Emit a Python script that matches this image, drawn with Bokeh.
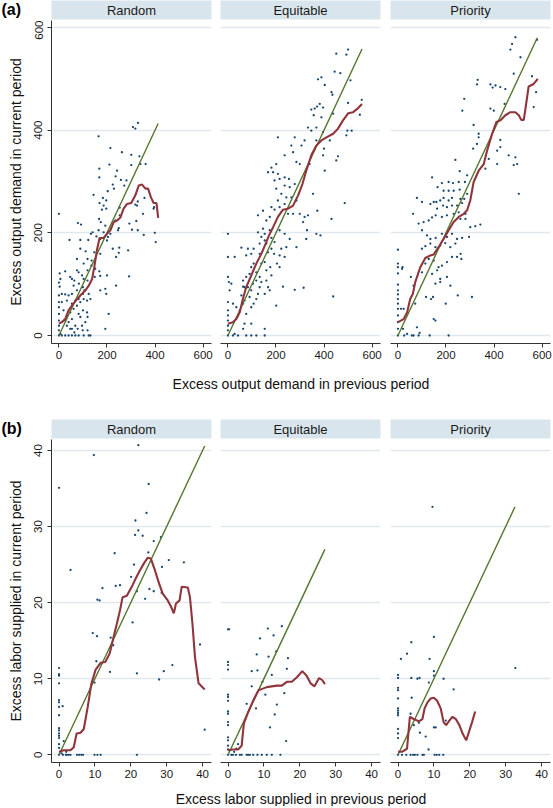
from bokeh.plotting import figure
from bokeh.models import Range1d, FixedTicker, Grid
from bokeh.layouts import column, row
from bokeh.embed import file_html
from bokeh.resources import INLINE
from bokeh.core.properties import value

FONT = "Liberation Sans"
NAVY = "#1a476f"
MAROON = "#90353b"
GREEN = "#55752f"
STRIP = "#d9e5ec"
GRIDC = "#dfe8ed"
AXIS = "#333333"

facets = ["Random", "Equitable", "Priority"]

# ---------------- panel (a): excess output demand ----------------
a_ticks = [0, 200, 400, 600]
a_ylabel = "Excess output demand in current period"
a_xlabel = "Excess output demand in previous period"
a_diag_max = [413, 558, 580]

a_random_pts = [(329,414),(308,406),(318,403),(165,388),(214,365),(262,357),(301,352),(335,349),(361,334),(339,334),
    (210,333),(301,332),(242,321),(236,310),(281,302),(168,325),(168,308),(258,303),(272,292),(224,294),
    (229,286),(144,274),(203,281),(183,268),(197,263),(169,258),(186,253),(197,247),(179,245),(356,268),
    (328,261),(318,255),(394,247),(253,249),(253,234),(167,227),(174,221),(193,214),(235,224),(249,209),
    (246,205),(322,223),(165,205),(186,201),(214,198),(204,192),(133,198),(140,201),(156,193),(172,188),
    (200,185),(224,169),(251,171),(249,161),(238,153),(293,218),(304,206),(288,166),(325,253),(350,237),
    (396,250),(399,200),(403,182),(328,205),(353,196),(122,186),(111,164),(89,169),(119,149),(136,146),
    (79,219),(92,216),(44,186),(89,186),(75,149),(103,140),(26,125),(47,114),(64,107),(82,123),
    (83,101),(100,94),(106,88),(124,81),(131,71),(117,68),(149,114),(172,116),(200,117),(168,125),
    (151,130),(193,91),(197,81),(207,42),(238,97),(292,115),(193,13),(172,88),(3,121),(6,110),
    (0,103),(3,95),(12,81),(26,80),(40,78),(54,81),(0,78),(0,65),(0,55),(0,42),
    (0,29),(0,19),(0,10),(0,0),(19,49),(33,39),(47,45),(61,52),(75,58),(89,65),
    (103,71),(26,29),(40,26),(54,32),(68,19),(78,13),(96,19),(110,26),(119,10),(68,68),
    (54,62),(82,71),(100,81),(110,88),(12,0),(26,0),(40,0),(54,0),(68,0),(82,0),
    (103,0),(124,0),(131,0),(33,68),(12,65),(75,88),(61,97),(103,110),(119,107),(119,127),
    (135,136),(75,127),(96,117),(54,110),(89,36),(100,49),(119,36),(47,13),(117,45),(99,10),
    (64,6),(33,19),(54,13),(6,3),(82,42),(172,159),(147,162),(0,237)]
a_random_fit_x = [0,12,26,40,54,72,89,110,124,138,147,158,169,186,200,214,228,242,256,269,283,301,318,332,346,360,371,383,394,406,413]
a_random_fit_y = [23,26,32,49,58,69,78,88,97,110,133,166,190,190,198,205,221,224,230,247,256,258,273,292,294,286,286,269,258,258,229]

a_equit_pts = [(493,547),(500,557),(444,514),(468,511),(451,549),(375,499),(389,503),(510,497),(403,488),(431,474),
    (435,469),(382,451),(347,440),(361,442),(371,446),(396,444),(357,429),(389,425),(438,432),(333,405),
    (347,399),(368,405),(396,396),(500,453),(549,430),(557,459),(497,399),(515,399),(493,390),(208,386),
    (278,386),(319,380),(264,370),(306,370),(368,380),(424,380),(400,364),(271,357),(236,351),(285,338),
    (299,334),(340,334),(396,351),(458,349),(451,341),(403,321),(201,334),(181,327),(188,318),(208,315),
    (167,318),(194,302),(215,305),(236,308),(254,305),(236,292),(257,289),(278,295),(201,286),(222,276),
    (243,269),(264,269),(285,263),(208,263),(181,250),(194,245),(215,250),(236,256),(250,237),(271,237),
    (299,237),(319,231),(333,234),(354,276),(372,243),(431,227),(486,258),(146,243),(160,224),(125,234),
    (174,231),(125,201),(153,198),(174,205),(215,205),(236,198),(257,188),(243,172),(285,172),(326,188),
    (368,198),(385,195),(329,205),(313,221),(153,185),(132,179),(107,169),(83,169),(56,171),(76,156),
    (97,159),(132,159),(167,162),(192,159),(215,156),(236,153),(204,140),(153,143),(176,133),(139,140),
    (107,140),(97,133),(118,123),(90,120),(76,114),(63,107),(104,101),(139,104),(160,107),(181,117),
    (229,95),(174,88),(132,94),(153,81),(125,81),(97,88),(83,94),(63,95),(56,78),(69,68),
    (90,75),(118,71),(107,62),(97,55),(0,153),(28,153),(0,114),(4,104),(14,101),(7,88),
    (0,65),(0,49),(0,39),(0,29),(0,19),(0,10),(0,0),(0,198),(21,62),(35,55),
    (49,49),(63,62),(76,42),(201,58),(278,89),(315,93),(438,76),(69,23),(97,23),(63,13),
    (76,0),(118,0),(153,13),(153,0),(21,0),(42,0),(97,0),(28,3),(146,208),(139,192),
    (160,179),(181,190),(194,182),(222,169),(181,169),(160,127),(132,114),(215,133),(69,94),(118,107),
    (167,94)]
a_equit_fit_x = [0,21,35,49,62,76,97,118,139,157,171,188,208,229,250,271,292,310,326,347,368,389,410,438,458,479,501,521,542,558]
a_equit_fit_y = [23,26,32,45,71,94,117,140,159,179,195,211,231,245,247,253,273,295,321,351,370,380,386,393,403,419,433,435,443,451]

a_prior_pts = [(489,581),(475,568),(468,557),(510,542),(482,510),(558,505),(579,576),(575,474),(565,445),(332,498),
    (329,489),(385,489),(406,487),(426,484),(394,483),(447,480),(276,461),(268,438),(385,442),(399,438),
    (444,451),(315,410),(336,393),(336,386),(329,373),(313,364),(426,381),(426,367),(413,360),(461,351),
    (489,347),(496,334),(482,332),(413,334),(378,344),(364,325),(503,276),(239,342),(257,320),(288,312),
    (279,299),(253,299),(229,297),(211,299),(183,297),(142,308),(165,289),(190,282),(211,282),(232,282),
    (257,284),(288,276),(276,266),(260,266),(225,268),(211,263),(190,268),(176,263),(160,260),(149,260),
    (135,256),(163,247),(188,253),(204,250),(225,253),(246,253),(267,258),(281,237),(260,227),(281,227),
    (301,211),(322,213),(343,216),(79,268),(100,260),(63,237),(86,218),(107,221),(100,205),(128,224),
    (142,230),(157,234),(183,231),(204,234),(232,237),(253,240),(121,195),(135,188),(157,190),(183,198),
    (204,192),(225,198),(246,188),(267,190),(296,192),(100,169),(114,174),(135,179),(156,172),(176,175),
    (197,180),(218,172),(239,179),(264,149),(261,159),(246,153),(225,153),(204,143),(183,136),(169,133),
    (149,146),(128,149),(114,140),(100,123),(142,120),(163,127),(176,110),(176,104),(156,101),(204,114),
    (218,97),(249,78),(146,75),(138,71),(117,75),(72,62),(199,62),(308,75),(0,167),(0,140),
    (0,133),(0,121),(0,99),(0,88),(0,80),(0,71),(0,62),(0,52),(0,39),(0,26),
    (0,13),(0,0),(17,130),(19,133),(54,114),(65,97),(24,52),(13,52),(21,13),(38,3),
    (58,0),(79,16),(90,5),(86,0),(132,0),(149,32),(156,29),(211,0),(65,0),(26,0)]
a_prior_fit_x = [0,24,38,51,62,72,93,114,135,149,169,190,211,232,253,274,288,301,315,336,357,371,392,410,426,447,468,489,503,513,524,544,565,582]
a_prior_fit_y = [26,32,45,71,81,104,133,151,156,158,172,188,205,221,231,237,244,263,299,321,334,360,393,416,419,429,435,435,429,420,420,485,490,500]

# ---------------- panel (b): excess labor supplied ----------------
b_ticks = [0, 10, 20, 30, 40]
b_ylabel = "Excess labor supplied in current period"
b_xlabel = "Excess labor supplied in previous period"
b_diag_max = [40.6, 27.0, 32.6]

b_random_pts = [(0,35.1),(9.7,39.4),(22.1,40.7),(25,35.6),(24.4,31.8),(21.3,30.8),(22.1,29.5),(21.2,28.9),(23.3,28.8),(26.4,28.1),
    (28.4,28.6),(3.2,24.3),(15.5,26.5),(24.9,26.6),(28.7,24.7),(30.6,25.6),(34.8,25.3),(20.9,25),(20.1,23.4),(15.8,22.2),
    (17,22.3),(12.1,21.9),(25.2,21.8),(26.4,21.5),(21.7,21.5),(24,20.5),(28.6,21.3),(10.7,20.4),(11.3,20.3),(20.5,17.4),
    (9.4,16),(10.6,15.6),(14.4,15.4),(15.1,14.4),(10.4,12.3),(14.2,10.9),(21.7,10.7),(29.2,11),(31.6,11.8),(27.9,9.9),
    (9.9,9.5),(0,11.4),(0,10.6),(0,10.4),(0,9.4),(0,7.2),(0,6.9),(1,6.4),(0,6.3),(0,5.2),
    (0,3.5),(0,3.2),(0,2.8),(0,2.5),(0,2.2),(0,1.4),(0,0.9),(1.3,1.8),(0,0),(1.1,0),
    (1.9,0),(2.2,0),(2.7,0),(3.2,0),(5,0),(5.6,0),(6.2,0),(6.7,0),(9.9,0),(10.7,0),
    (11.6,0),(21.7,0),(2,0.4),(0.7,0.2),(39.3,14.5),(40.6,3.3)]
b_random_fit_x = [0,1.3,3.2,4.1,4.9,6,6.9,8,9,10.2,11.6,12.9,14.1,15.1,16.1,17,17.7,18.9,20.5,21.4,22.6,23.7,24.7,25.6,26.7,27.9,28.9,30.3,31.2,32,32.6,33.6,34.2,35.9,36.5,37.2,37.9,38.9,40.6]
b_random_fit_y = [0.4,0.6,0.6,1,2.8,2.9,3.4,6.3,9.3,11.2,12.1,12.2,13.3,15.3,17.2,19,20.7,20.9,22.3,23.2,24.3,25.2,25.9,25.8,24.3,22.5,21.2,20.3,19.5,18.6,19.9,20.3,22.1,22,20.7,17.2,12.8,9.4,8.6]

b_equit_pts = [(0,16.5),(0.3,16.5),(11.1,16.6),(15,16.9),(12.7,15.7),(8.9,15.3),(13.4,13.6),(8,13.2),(16.7,12.7),(11.3,12.9),
    (16.4,11.3),(0,12.2),(0,11.8),(0,11.2),(6.6,11),(8.2,11.1),(12.2,10.5),(9.6,9.6),(6.6,9),(15.7,8.1),
    (10.4,7.9),(0,7.9),(0,7.6),(0,7.1),(0,5.7),(0,5.4),(0,4.3),(0,3.9),(5.2,6.7),(13.6,6.6),
    (7.8,6.1),(13,5.3),(11.7,3.6),(16.2,1.8),(0,2.3),(0,1.9),(0,1.2),(0,0.7),(2.8,1.4),(2.3,0.8),
    (0,0),(0.9,0),(1.4,0),(2.2,0),(3.3,0),(3.8,0),(5.2,0),(5.6,0),(6.1,0),(7,0),
    (8.2,0),(9.4,0),(10.8,0),(12.2,0),(14.6,0),(1.7,0.4)]
b_equit_fit_x = [0,1.4,2.8,3.8,4.4,5.6,7,8.5,9.7,10.8,12.2,13.6,15,16.4,17.8,19.2,20.7,21.9,23,24.1,25.4,26.3,27]
b_equit_fit_y = [0.6,0.7,0.7,1.2,4.1,5.6,7.1,8.5,8.7,8.9,9,9.1,9.1,9.6,9.6,10.2,11,10.4,9.4,9,10.1,9.8,9.3]

b_prior_pts = [(9.6,32.6),(32.7,11.4),(3.7,14.8),(10,15.5),(2.5,13.3),(0.8,12.6),(8.8,12.6),(0,10.5),(0,10.1),(3.7,10.1),
    (5.4,10),(6,10.1),(10,11),(10,10.4),(12.7,10),(8.6,9.5),(15.5,8.6),(0,8.8),(0,8.5),(0,7.4),
    (3.8,7.5),(0,6.1),(0,5.8),(0,5.5),(0,5.2),(3.5,5.4),(0,3.4),(0,2.8),(0,2.2),(4.4,3.9),
    (6.1,2.9),(7.7,2.4),(10,3.6),(10.5,3.6),(13.3,4.5),(5.8,4.2),(8.5,0.7),(0,0),(1.1,0),(2.3,0),
    (3.5,0),(4.2,0),(4.7,0),(5.4,0),(6.8,0),(7.2,0),(10.2,0),(10.8,0),(11.5,0),(12.6,0)]
b_prior_fit_x = [0,1.1,2.5,3.3,4.4,5.8,6.8,7.4,8.2,9.1,10,10.9,11.9,12.7,13.4,14.3,15.2,16.1,17.1,18,19,19.9,20.7,21.5]
b_prior_fit_y = [0.4,0.4,0.8,5,4.7,4.4,4.7,6.1,6.9,7.4,7.5,7.1,6.1,4.3,3.9,4.5,5,4.7,3.9,2.8,1.9,3.2,4.4,5.7]

# ---------------- layout constants (pixels) ----------------
FRAME_W = 160
PLOT_H = 323
STRIP_H = 19
BOTTOM = 22
LEFT0 = 51
BORDERS = [(0, 4), (5, 5), (5, 3)]   # (left, right) borders for the three facets (first one after the y axis)


def base_fig(width, height, left, right, top, bottom, xr, yr, **kw):
    p = figure(width=width, height=height, min_border_left=left, min_border_right=right,
               min_border_top=top, min_border_bottom=bottom, x_range=Range1d(*xr), y_range=Range1d(*yr),
               toolbar_location=None, output_backend="svg", title=None, **kw)
    p.outline_line_color = None
    p.border_fill_color = "white"
    p.grid.visible = False
    return p


def make_header_row(tag):
    figs = []
    t = base_fig(LEFT0, STRIP_H + 1, 0, 0, 0, 0, (0, LEFT0), (0, STRIP_H + 1),
                 x_axis_location=None, y_axis_location=None)
    t.background_fill_color = "white"
    t.text(x=[1], y=[STRIP_H + 1], text=[tag], text_align="left", text_baseline="top",
           text_font=value(FONT), text_font_size="16px", text_font_style="bold", text_color="#000000")
    figs.append(t)
    for i, name in enumerate(facets):
        l, r = BORDERS[i]
        h = base_fig(l + FRAME_W + r, STRIP_H + 1, l, r, 0, 1, (0, 1), (0, 1),
                     x_axis_location=None, y_axis_location=None)
        h.background_fill_color = STRIP
        h.text(x=[0.5], y=[0.5], text=[name], text_align="center", text_baseline="middle",
               text_font=value(FONT), text_font_size="13px", text_color="#1a1a1a")
        figs.append(h)
    return row(figs, spacing=0)


def style_axis(ax, ticks, standoff):
    ax.ticker = FixedTicker(ticks=ticks)
    ax.minor_tick_line_color = None
    ax.major_tick_out = 4
    ax.major_tick_in = 0
    ax.axis_line_color = AXIS
    ax.major_tick_line_color = AXIS
    ax.major_label_text_font = FONT
    ax.major_label_text_font_size = "11.5px"
    ax.major_label_text_color = "#1a1a1a"
    ax.major_label_standoff = standoff


def make_facet(i, pts, fx, fy, dmax, xr, yr, ticks, ylabel):
    l, r = BORDERS[i]
    if i == 0:
        l = LEFT0
    p = base_fig(l + FRAME_W + r, PLOT_H + BOTTOM, l, r, 0, BOTTOM, xr, yr,
                 y_axis_location="left" if i == 0 else None)
    p.background_fill_color = "white"
    p.add_layout(Grid(dimension=1, ticker=FixedTicker(ticks=ticks),
                      grid_line_color=GRIDC, grid_line_width=1.3))

    xs = [q[0] for q in pts]
    ys = [q[1] for q in pts]
    p.scatter(xs, ys, size=2.3, color=NAVY, line_width=0)
    p.line([0, dmax], [0, dmax], color=GREEN, line_width=1.4)
    p.line(fx, fy, color=MAROON, line_width=2.1)

    style_axis(p.xaxis[0], ticks, 3)
    if i == 0:
        ay = p.yaxis[0]
        style_axis(ay, ticks, 5)
        ay.major_label_orientation = "vertical"
        ay.axis_label = ylabel
        ay.axis_label_text_font = FONT
        ay.axis_label_text_font_size = "14px"
        ay.axis_label_text_font_style = "normal"
        ay.axis_label_text_color = "#111111"
        ay.axis_label_standoff = 8
    return p


def make_title(text, h, from_top):
    p = base_fig(LEFT0 + 3 * FRAME_W + 4 + 5 + 5 + 5 + 3, h, LEFT0, 3, 0, 0, (0, 1), (0, h),
                 x_axis_location=None, y_axis_location=None)
    p.text(x=[0.5], y=[h - from_top], text=[text], text_align="center", text_baseline="middle",
           text_font=value(FONT), text_font_size="14px", text_color="#111111")
    return p


a_sets = [(a_random_pts, a_random_fit_x, a_random_fit_y),
          (a_equit_pts, a_equit_fit_x, a_equit_fit_y),
          (a_prior_pts, a_prior_fit_x, a_prior_fit_y)]
b_sets = [(b_random_pts, b_random_fit_x, b_random_fit_y),
          (b_equit_pts, b_equit_fit_x, b_equit_fit_y),
          (b_prior_pts, b_prior_fit_x, b_prior_fit_y)]

row_a = row([make_facet(i, s[0], s[1], s[2], a_diag_max[i], (-31, 635), (-15.6, 613.6),
                        a_ticks, a_ylabel) for i, s in enumerate(a_sets)], spacing=0)
row_b = row([make_facet(i, s[0], s[1], s[2], b_diag_max[i], (-2.1, 42.5), (-1.01, 41.45),
                        b_ticks, b_ylabel) for i, s in enumerate(b_sets)], spacing=0)

page = column([make_header_row("(a)"), row_a, make_title(a_xlabel, 54, 18),
               make_header_row("(b)"), row_b, make_title(b_xlabel, 22, 14)], spacing=0)

open("out.html", "w").write(file_html(page, INLINE))
